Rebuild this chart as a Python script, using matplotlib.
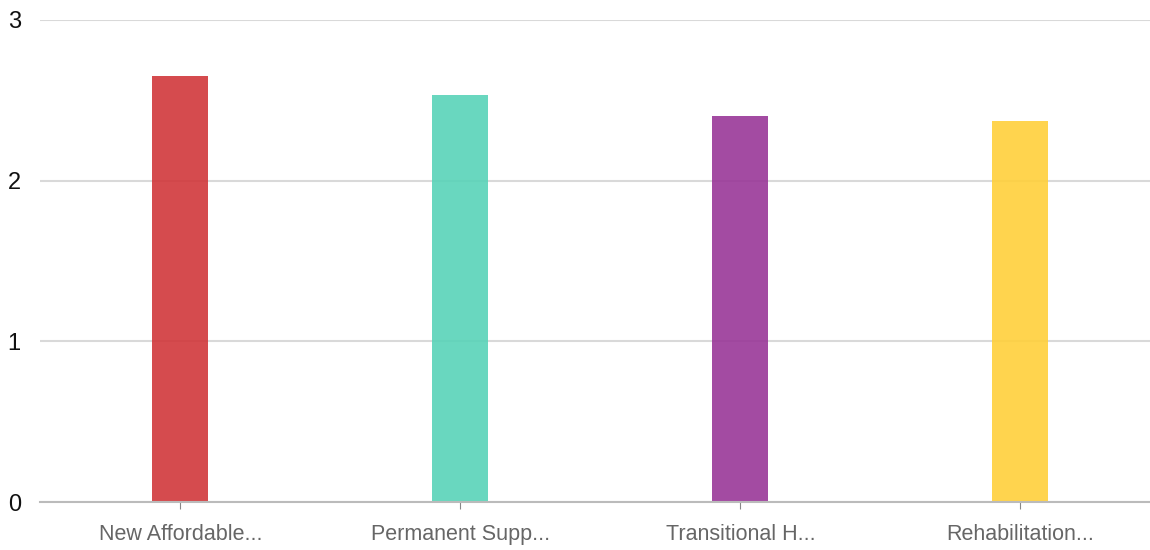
import numpy as np
import matplotlib.pyplot as plt

categories = ['New Affordable...', 'Permanent Supp...', 'Transitional H...', 'Rehabilitation...']
values = [2.65, 2.53, 2.40, 2.37]
colors = ['#D1373B', '#59D3B8', '#993798', '#FFD03B']
yticks = [0, 1, 2, 3]

plt.rcParams['font.family'] = ['Liberation Sans', 'DejaVu Sans']

fig = plt.figure(figsize=(11.5, 5.5), dpi=100)
ax = fig.add_axes([0.035, 0.087, 0.974, 0.877])

x = np.arange(len(categories))
ax.bar(x, values, width=0.2, color=colors, alpha=0.9, zorder=3)

ax.set_xlim(-0.5, len(categories) - 0.5)
ax.set_ylim(0, 3)
ax.set_yticks(yticks)
ax.set_yticklabels([str(t) for t in yticks], fontsize=17, color='#111111')
ax.set_xticks(x)
ax.set_xticklabels(categories, fontsize=15.5, color='#666666')

ax.grid(axis='y', color='#d9d9d9', linewidth=1.5, zorder=0)
for side in ['top', 'right', 'left']:
    ax.spines[side].set_visible(False)
ax.spines['bottom'].set_color('#bbbbbb')
ax.spines['bottom'].set_linewidth(1.5)
ax.spines['bottom'].set_zorder(4)

ax.tick_params(axis='y', length=0, pad=14)
ax.tick_params(axis='x', length=5, color='#888888', pad=11)

fig.savefig('out.png', dpi=100)
